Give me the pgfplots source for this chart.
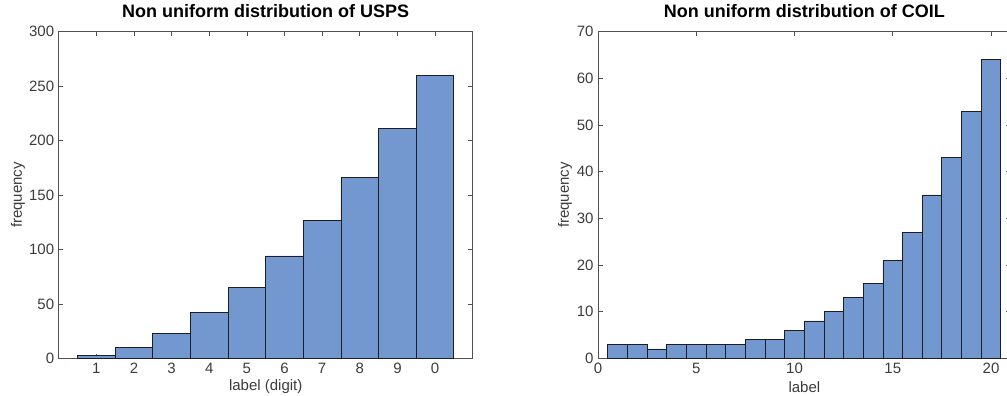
\documentclass[border=0pt]{standalone}
\usepackage{fontspec}
\setmainfont{Liberation Sans}
\usepackage{pgfplots}
\pgfplotsset{compat=1.18}
\usepackage{pgfplotstable}

\definecolor{barfill}{RGB}{115,151,207}
\definecolor{baredge}{RGB}{30,30,30}
\definecolor{axisgray}{RGB}{80,80,80}
\definecolor{textgray}{RGB}{60,60,60}

% label, count
\pgfplotstableread{
x  n
1  3
2  10
3  23
4  42
5  65
6  94
7  127
8  166
9  211
10 260
}\usps

\pgfplotstableread{
x  n
1  3
2  3
3  2
4  3
5  3
6  3
7  3
8  4
9  4
10 6
11 8
12 10
13 13
14 16
15 21
16 27
17 35
18 43
19 53
20 64
}\coil

\pgfplotsset{
  histpanel/.style={
    scale only axis,
    anchor=south west,
    height=326.6pt,
    ymin=0,
    axis line style={axisgray, line width=0.8pt},
    major tick length=4.5pt,
    tick style={axisgray, line width=0.7pt},
    tick align=inside,
    /pgf/number format/assume math mode=true,
    ticklabel style={font=\fontsize{15}{17}\selectfont, text=textgray},
    label style={font=\fontsize{15}{17}\selectfont, text=textgray},
    title style={font=\fontsize{18}{20}\selectfont\bfseries, text=black,
      at={(axis description cs:0.5,1.045)}, anchor=center},
    xlabel style={at={(axis description cs:0.5,-0.088)}, anchor=center},
    yticklabel style={xshift=-1pt},
    xticklabel style={yshift=-1pt},
  },
  histbars/.style={
    ybar, bar width=1, bar shift=0pt,
    fill=barfill, draw=baredge, line width=0.9pt,
  },
}

\begin{document}
\begin{tikzpicture}
\useasboundingbox (0,0) rectangle (1007pt,396pt);

\begin{axis}[
  histpanel,
  at={(58.7pt,37.7pt)},
  width=414pt,
  xmin=0, xmax=11,
  ymax=300,
  xtick={1,...,10},
  xticklabels={1,2,3,4,5,6,7,8,9,0},
  ytick={0,50,...,300},
  title={Non uniform distribution of USPS},
  xlabel={label (digit)},
  ylabel={frequency},
  ylabel style={at={(axis description cs:-0.098,0.5)}, anchor=center, rotate=0},
]
\addplot[histbars] table[x=x, y=n] {\usps};
\end{axis}

\begin{axis}[
  histpanel,
  at={(598pt,37.7pt)},
  width=412.7pt,
  xmin=0, xmax=21,
  ymax=70,
  xtick={0,5,10,15,20},
  ytick={0,10,...,70},
  title={Non uniform distribution of COIL},
  xlabel={label},
  ylabel={frequency},
  ylabel style={at={(axis description cs:-0.08,0.5)}, anchor=center, rotate=0},
]
\addplot[histbars] table[x=x, y=n] {\coil};
\end{axis}
\end{tikzpicture}
\end{document}
